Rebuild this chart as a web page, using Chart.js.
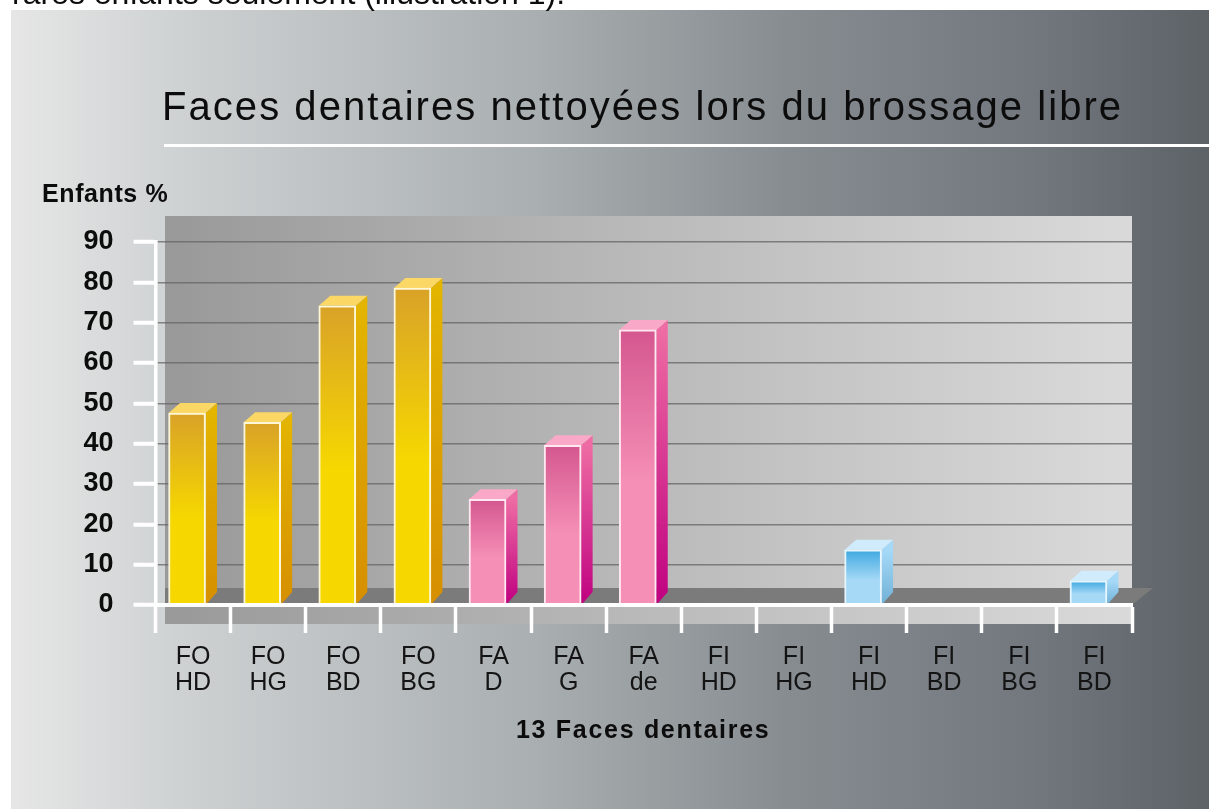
<!DOCTYPE html>
<html lang="fr">
<head>
<meta charset="utf-8">
<title>Faces dentaires</title>
<script src="https://cdn.jsdelivr.net/npm/chart.js@4"></script>
<style>
  html, body { margin: 0; background: #fff; overflow: hidden; }
  #wrap { position: relative; width: 1209px; height: 809px; overflow: hidden; font-family: "Liberation Sans", sans-serif; color: #0c0c0c; }
  canvas { position: absolute; left: 0; top: 0; }
  #wrap div { position: absolute; white-space: nowrap; }
  #intro { left: 12px; top: -27px; font-size: 32px; line-height: 40px; }
  #titre { left: 162px; top: 81px; font-size: 40px; line-height: 50px; letter-spacing: 2.05px; }
  #filet { left: 164px; top: 144px; width: 1045px; height: 3px; background: #fff; }
  #ytitre { left: 42px; top: 179px; font-size: 25px; line-height: 28px; font-weight: bold; letter-spacing: .6px; }
  #xtitre { left: 516px; top: 714px; font-size: 25px; line-height: 30px; font-weight: bold; letter-spacing: 1.7px; }
</style>
</head>
<body>
<div id="wrap">
  <canvas id="graphique" width="1209" height="809"></canvas>
  <div id="intro">rares enfants seulement (illustration 1).</div>
  <div id="titre">Faces dentaires nettoyées lors du brossage libre</div>
  <div id="filet"></div>
  <div id="ytitre">Enfants %</div>
  <div id="xtitre">13 Faces dentaires</div>
</div>
<script>
// --- DONNEES ---
const categories = [['FO','HD'],['FO','HG'],['FO','BD'],['FO','BG'],['FA','D'],['FA','G'],['FA','de'],
                    ['FI','HD'],['FI','HG'],['FI','HD'],['FI','BD'],['FI','BG'],['FI','BD']];
const valeurs = [47.6, 45.3, 74.2, 78.6, 26.2, 39.6, 68.2, 0, 0, 13.7, 0, 0, 6];
const groupes = [0, 0, 0, 0, 1, 1, 1, 2, 2, 2, 2, 2, 2];

// --- COULEURS par groupe (jaune, rose, bleu) ---
const couleurHaut = ['#d9a228', '#d4578f', '#3ea8e0'];
const couleurBas = ['#f6d800', '#f58fb6', '#a6d9f6'];
const coteHaut = ['#e3b400', '#ee6ca3', '#a6d9f8'];
const coteBas = ['#d68f00', '#bf0080', '#6fb1d6'];
const dessus = ['#fbd766', '#f9a9c7', '#cfebfc'];
const arretes = ['#fff8d8', '#ffe8f0', '#e6f6ff'];
const profondeurX = 11.5;
const profondeurY = 10;
const decalageBarre = -6; // les barres ne sont pas centrees sur la categorie

function degradeFace(ctx) {
  const chart = ctx.chart;
  const g = groupes[ctx.dataIndex] || 0;
  // au premier passage les echelles ne sont pas encore placees
  if (!chart.chartArea) return couleurBas[g];
  const yHaut = chart.scales.y.getPixelForValue(valeurs[ctx.dataIndex]);
  const yBas = chart.scales.y.getPixelForValue(0);
  if (!isFinite(yHaut) || !isFinite(yBas)) return couleurBas[g];
  const grad = chart.ctx.createLinearGradient(0, yHaut, 0, yBas);
  grad.addColorStop(0, couleurHaut[g]);
  grad.addColorStop(0.55, couleurBas[g]);
  grad.addColorStop(1, couleurBas[g]);
  return grad;
}

// fond, mur et sol
const decor = {
  id: 'decor',
  beforeDraw(chart) {
    const c = chart.ctx, a = chart.chartArea;
    c.save();
    let grad = c.createLinearGradient(11, 0, 1209, 0);
    grad.addColorStop(0, '#e6e6e6');
    grad.addColorStop(0.16, '#cbcfd0');
    grad.addColorStop(0.44, '#a9aeb0');
    grad.addColorStop(0.65, '#868c90');
    grad.addColorStop(0.85, '#72787e');
    grad.addColorStop(1, '#5d6267');
    c.fillStyle = grad;
    c.fillRect(11, 10, 1198, 799);

    grad = c.createLinearGradient(165, 0, a.right, 0);
    grad.addColorStop(0, '#999999');
    grad.addColorStop(0.5, '#bababa');
    grad.addColorStop(1, '#dadada');
    c.fillStyle = grad;
    c.fillRect(165, 216, a.right - 165, a.bottom - 216);
    c.fillRect(165, a.bottom, a.right - 165, 19);

    c.fillStyle = '#7b7b7b';
    c.beginPath();
    c.moveTo(165, 588);
    c.lineTo(1153, 588);
    c.lineTo(1132, a.bottom);
    c.lineTo(165, a.bottom);
    c.closePath();
    c.fill();
    c.restore();
  },
  beforeDatasetsDraw(chart) {
    const c = chart.ctx;
    c.save();
    c.translate(decalageBarre, 0);
    const base = chart.scales.y.getPixelForValue(0);
    chart.getDatasetMeta(0).data.forEach((barre, i) => {
      if (!valeurs[i]) return;
      const g = groupes[i];
      const d = barre.x + barre.width / 2, h = barre.x - barre.width / 2, y = barre.y;
      let grad = c.createLinearGradient(0, y, 0, base);
      grad.addColorStop(0, coteHaut[g]);
      grad.addColorStop(1, coteBas[g]);
      c.fillStyle = grad;
      c.beginPath();
      c.moveTo(d, y);
      c.lineTo(d + profondeurX, y - profondeurY);
      c.lineTo(d + profondeurX, base - 13);
      c.lineTo(d, base);
      c.closePath();
      c.fill();
      c.fillStyle = dessus[g];
      c.beginPath();
      c.moveTo(h, y);
      c.lineTo(h + profondeurX, y - profondeurY);
      c.lineTo(d + profondeurX, y - profondeurY);
      c.lineTo(d, y);
      c.closePath();
      c.fill();
    });
  },
  afterDatasetsDraw(chart) {
    chart.ctx.restore();
  }
};

new Chart(document.getElementById('graphique'), {
  type: 'bar',
  data: {
    labels: categories,
    datasets: [{
      data: valeurs,
      barThickness: 37,
      backgroundColor: degradeFace,
      borderColor: ctx => arretes[groupes[ctx.dataIndex] || 0],
      borderWidth: { top: 2, left: 2, right: 2, bottom: 0 },
      borderSkipped: false
    }]
  },
  options: {
    responsive: false,
    animation: false,
    layout: { padding: { top: 242, right: 77, bottom: 0, left: 0 } },
    plugins: { legend: { display: false }, tooltip: { enabled: false }, title: { display: false } },
    scales: {
      x: {
        afterFit: s => { s.height = 204; },
        grid: { drawOnChartArea: false, color: '#fff', tickColor: '#fff', tickLength: 28, tickWidth: 3.5, z: 1 },
        border: { color: '#fff', width: 4, z: 2 },
        ticks: { color: '#141414', padding: 11, maxRotation: 0, autoSkip: false, font: { family: 'Liberation Sans', size: 25, lineHeight: 1.04 } }
      },
      y: {
        min: 0,
        max: 90,
        afterFit: s => { s.width = 155.5; },
        grid: { color: 'rgba(100,100,100,0.75)', lineWidth: 1.5, tickColor: '#fff', tickLength: 22, tickWidth: 4, drawTicks: true },
        border: { color: '#fff', width: 3.5, z: 2 },
        ticks: { stepSize: 10, color: '#0c0c0c', padding: 20, font: { family: 'Liberation Sans', size: 27, weight: 'bold' } }
      }
    }
  },
  plugins: [decor]
});
</script>
</body>
</html>
